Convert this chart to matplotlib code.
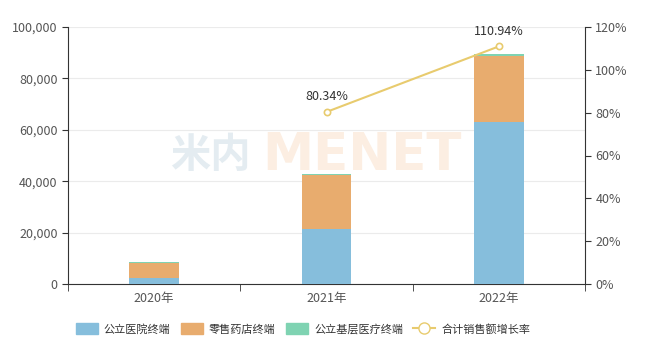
import matplotlib.pyplot as plt
import numpy as np
from matplotlib.ticker import FuncFormatter, FixedLocator
from matplotlib.lines import Line2D
from matplotlib.patches import Patch

plt.rcParams['font.family'] = ['Noto Sans CJK SC', 'DejaVu Sans']

years = ['2020年', '2021年', '2022年']
public_hospital = [2200, 21400, 62900]
retail_pharmacy = [6100, 21000, 25900]
grassroots = [150, 250, 700]
growth_years = ['2021年', '2022年']
growth_rate = [80.34, 110.94]

c_blue = '#86BEDC'
c_orange = '#E8AC6E'
c_green = '#7FD3B2'
c_line = '#E8CB6E'
axis_col = '#333333'
label_col = '#555555'

fig = plt.figure(figsize=(6.49, 3.57), dpi=100)
ax = fig.add_axes([68 / 649, 1 - 284 / 357, (585 - 68) / 649, (284 - 27) / 357])

x = np.arange(len(years))
w = 0.29
ax.bar(x, public_hospital, w, color=c_blue, zorder=3)
ax.bar(x, retail_pharmacy, w, bottom=public_hospital, color=c_orange, zorder=3)
bottom2 = np.array(public_hospital) + np.array(retail_pharmacy)
ax.bar(x, grassroots, w, bottom=bottom2, color=c_green, zorder=3)

ax.set_xlim(-0.5, 2.5)
ax.set_ylim(0, 100000)
ax.yaxis.set_major_locator(FixedLocator(np.arange(0, 100001, 20000)))
ax.yaxis.set_major_formatter(FuncFormatter(lambda v, p: f'{int(v):,}'))
ax.set_xticks(x)
ax.set_xticklabels(years)
ax.set_xticks([-0.5, 0.5, 1.5, 2.5], minor=True)
ax.tick_params(axis='x', which='major', length=0, pad=6)
ax.tick_params(axis='x', which='minor', length=5, color=axis_col)
ax.tick_params(axis='y', length=4, color=axis_col)
ax.tick_params(labelsize=9, labelcolor=label_col)
ax.grid(axis='y', color='#EBEBEB', linewidth=0.8, zorder=0)
ax.set_axisbelow(True)
for s in ['top', 'right']:
    ax.spines[s].set_visible(False)
for s in ['left', 'bottom']:
    ax.spines[s].set_color(axis_col)

# watermark
ax.text(0.197, 0.50, '米内', transform=ax.transAxes, fontsize=29, fontweight='bold',
        color='#E4ECF1', ha='left', va='center', zorder=1)
ax.text(0.375, 0.50, 'MENET', transform=ax.transAxes, fontsize=37, fontweight='bold',
        color='#FCEEE2', ha='left', va='center', zorder=1, family='DejaVu Sans')

ax2 = ax.twinx()
ax2.set_position(ax.get_position())
gx = [years.index(g) for g in growth_years]
ax2.plot(gx, growth_rate, color=c_line, linewidth=1.5, marker='o', markersize=4.5,
         markerfacecolor='white', markeredgecolor=c_line, markeredgewidth=1.2, zorder=5)
for xi, v in zip(gx, growth_rate):
    ax2.text(xi, v + 4, f'{v:.2f}%', ha='center', va='bottom', fontsize=9, color='#333333')
ax2.set_ylim(0, 120)
ax2.yaxis.set_major_locator(FixedLocator(np.arange(0, 121, 20)))
ax2.yaxis.set_major_formatter(FuncFormatter(lambda v, p: f'{int(v)}%'))
ax2.tick_params(axis='y', length=4, color=axis_col, labelsize=9, labelcolor=label_col)
for s in ['top', 'left', 'bottom']:
    ax2.spines[s].set_visible(False)
ax2.spines['right'].set_color(axis_col)

# legend
handles = [
    Patch(color=c_blue),
    Patch(color=c_orange),
    Patch(color=c_green),
    Line2D([0], [0], color=c_line, linewidth=1.5, marker='o', markersize=8,
           markerfacecolor='white', markeredgecolor=c_line),
]
labels = ['公立医院终端', '零售药店终端', '公立基层医疗终端', '合计销售额增长率']
fig.legend(handles, labels, loc='center', bbox_to_anchor=(303 / 649, 1 - 329 / 357), ncol=4,
           frameon=False, fontsize=8, handlelength=2.0, handleheight=1.15,
           columnspacing=0.9, handletextpad=0.55, labelcolor='#333333')

fig.savefig('out.png', dpi=100)
